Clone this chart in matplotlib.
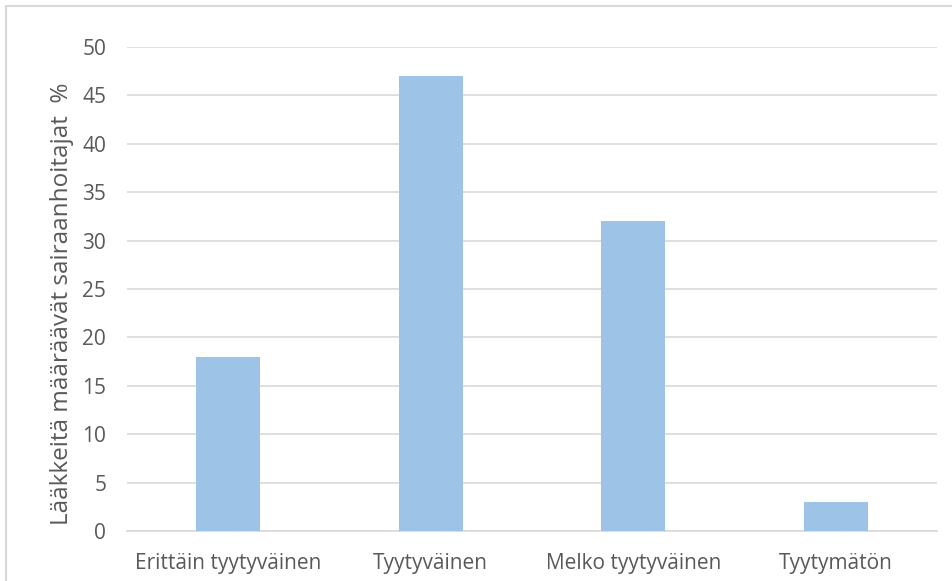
import matplotlib.pyplot as plt
from matplotlib.patches import Rectangle

# Tyytyväisyys lääkkeenmääräämiseen (%)
categories = ['Erittäin tyytyväinen', 'Tyytyväinen', 'Melko tyytyväinen', 'Tyytymätön']
values = [18, 47, 32, 3]
yticks = [0, 5, 10, 15, 20, 25, 30, 35, 40, 45, 50]

plt.rcParams['font.family'] = ['Open Sans', 'DejaVu Sans']
text_color = '#595959'

fig = plt.figure(figsize=(9.52, 5.81), dpi=100)
ax = fig.add_axes([127 / 952, 1 - 531 / 581, 810 / 952, 484 / 581])

x = range(len(categories))
ax.bar(x, values, width=0.316, color='#9DC3E6', zorder=3)

ax.set_xlim(-0.5, len(categories) - 0.5)
ax.set_ylim(0, 50)
ax.set_yticks(yticks)
ax.set_xticks(list(x))
ax.set_xticklabels(categories)
ax.tick_params(axis='both', length=0, colors=text_color, labelsize=15)
ax.tick_params(axis='y', pad=15)
ax.tick_params(axis='x', pad=16)
ax.grid(axis='y', color='#D9D9D9', linewidth=1.2, zorder=0)
for side in ['top', 'right', 'left']:
    ax.spines[side].set_visible(False)
ax.spines['bottom'].set_color('#D9D9D9')
ax.spines['bottom'].set_linewidth(1.2)

ax.set_ylabel('Lääkkeitä määräävät sairaanhoitajat  %', color=text_color, fontsize=17.5)
ax.yaxis.label.set_va('center')
ax.yaxis.set_label_coords(-0.080, 0.469)

# kaavion reunaviiva
fig.patches.append(Rectangle((6 / 952, -0.05), 1.1, 1 - 6 / 581 + 0.05, transform=fig.transFigure,
                             fill=False, edgecolor='#D9D9D9', linewidth=1.5))

plt.savefig('out.png', dpi=100)
